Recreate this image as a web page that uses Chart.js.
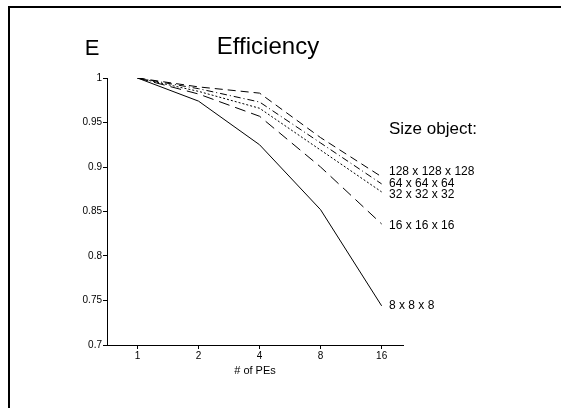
<!DOCTYPE html>
<html>
<head>
<meta charset="utf-8">
<script src="https://cdn.jsdelivr.net/npm/chart.js@4"></script>
<style>
  html, body { margin: 0; padding: 0; background: #fff; }
  #wrap { position: relative; width: 561px; height: 408px; overflow: hidden; }
  #frame { position: absolute; left: 8px; top: 6px; width: 600px; height: 500px;
           border-left: 2px solid #000; border-top: 2px solid #000; pointer-events: none; }
  canvas { position: absolute; left: 0; top: 0; }
</style>
</head>
<body>
<div id="wrap">
  <canvas id="effChart" width="561" height="408"></canvas>
  <div id="frame"></div>
</div>
<script>
// --- data ---
const peLabels = ["1", "2", "4", "8", "16"];
const yTicks = [0.7, 0.75, 0.8, 0.85, 0.9, 0.95, 1];

const size128 = [1, 0.990, 0.983, 0.933, 0.889];
const size64 = [1, 0.988, 0.973, 0.927, 0.881];
const size32 = [1, 0.985, 0.966, 0.919, 0.872];
const size16 = [1, 0.982, 0.957, 0.900, 0.836];
const size8 = [1, 0.974, 0.925, 0.852, 0.744];

const seriesNames = ["128 x 128 x 128", "64 x 64 x 64", "32 x 32 x 32", "16 x 16 x 16", "8 x 8 x 8"];
const FONT = "'Liberation Sans', Arial, Helvetica, sans-serif";

function toPoints(arr) {
  return arr.map((v, i) => ({ x: i + 1, y: v }));
}

function lineSet(name, values, dash) {
  return {
    label: name,
    data: toPoints(values),
    borderColor: "#000",
    borderWidth: 1,
    borderDash: dash,
    pointRadius: 0,
    fill: false,
    tension: 0,
  };
}

// teks judul dan label seri di kanan
const textPlugin = {
  id: "texts",
  afterDraw(chart) {
    const ctx = chart.ctx;
    const y = chart.scales.y;
    ctx.save();
    ctx.fillStyle = "#000";
    ctx.textBaseline = "middle";

    ctx.font = "22px " + FONT;
    ctx.textAlign = "center";
    ctx.fillText("E", 92, 49);
    ctx.font = "24px " + FONT;
    ctx.fillText("Efficiency", 268, 47);

    ctx.textAlign = "left";
    ctx.font = "17px " + FONT;
    ctx.fillText("Size object:", 389, 129);

    ctx.font = "12px " + FONT;
    const offsets = [-5, 0, 3, 2, 0];
    chart.data.datasets.forEach((ds, i) => {
      const last = ds.data[ds.data.length - 1].y;
      ctx.fillText(seriesNames[i], 389, y.getPixelForValue(last) + offsets[i]);
    });
    ctx.restore();
  },
};

const ctx = document.getElementById("effChart").getContext("2d");
new Chart(ctx, {
  type: "line",
  data: {
    datasets: [
      lineSet(seriesNames[0], size128, [8, 5]),
      lineSet(seriesNames[1], size64, [7, 3, 1, 3]),
      lineSet(seriesNames[2], size32, [2, 2]),
      lineSet(seriesNames[3], size16, [11, 6]),
      lineSet(seriesNames[4], size8, []),
    ],
  },
  options: {
    responsive: false,
    animation: false,
    devicePixelRatio: 1,
    layout: { padding: { left: 0, right: 158, top: 78, bottom: 0 } },
    plugins: { legend: { display: false }, tooltip: { enabled: false }, title: { display: false } },
    scales: {
      x: {
        type: "linear",
        min: 0.5,
        max: 5.35,
        afterBuildTicks: (s) => { s.ticks = peLabels.map((_, i) => ({ value: i + 1 })); },
        afterFit: (s) => { s.height = 63; },
        ticks: {
          color: "#000",
          font: { family: FONT, size: 10 },
          padding: 1,
          maxRotation: 0,
          callback: (v) => peLabels[v - 1],
        },
        grid: { drawOnChartArea: false, color: "#000", tickLength: 4 },
        border: { color: "#000", width: 1 },
        title: {
          display: true,
          text: "# of PEs",
          color: "#000",
          font: { family: FONT, size: 11 },
          padding: { top: 0, bottom: 30 },
        },
      },
      y: {
        min: 0.7,
        max: 1,
        afterBuildTicks: (s) => { s.ticks = yTicks.map((v) => ({ value: v })); },
        afterFit: (s) => { s.width = 107; },
        ticks: {
          color: "#000",
          font: { family: FONT, size: 10 },
          padding: 1,
          callback: (v) => String(v),
        },
        grid: { drawOnChartArea: false, color: "#000", tickLength: 4 },
        border: { color: "#000", width: 1 },
      },
    },
  },
  plugins: [textPlugin],
});
</script>
</body>
</html>
